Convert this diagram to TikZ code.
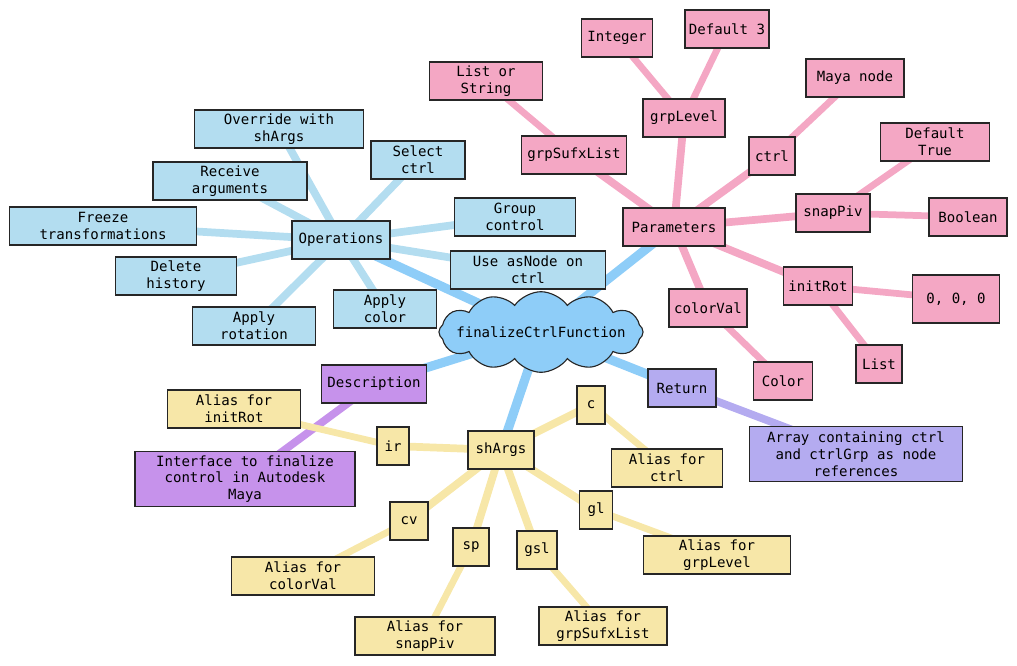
\documentclass[tikz,border=0pt]{standalone}
\usepackage{fontspec}
\setmonofont{DejaVu Sans Mono}
\usetikzlibrary{shapes.symbols, backgrounds}

\definecolor{rootblue}{HTML}{8ECDF8}
\definecolor{opblue}{HTML}{B3DDF0}
\definecolor{parampink}{HTML}{F4A7C4}
\definecolor{descviolet}{HTML}{C692EB}
\definecolor{retlav}{HTML}{B4ABF0}
\definecolor{aliasyellow}{HTML}{F7E7A8}

\begin{document}
\begin{tikzpicture}[
    x=0.025cm, y=-0.025cm,
    font=\ttfamily\fontsize{10}{12}\selectfont,
    box/.style={draw=black!85, line width=0.8pt, rectangle, align=center,
        minimum height=0.95cm, inner xsep=2pt, inner ysep=1pt},
    root node/.style={cloud, cloud puffs=12, cloud puff arc=110, aspect=3.7,
        inner xsep=-9pt, inner ysep=-1.5pt,
        draw=black!85, line width=0.8pt, fill=rootblue},
    op node/.style={box, fill=opblue},
    param node/.style={box, fill=parampink},
    desc node/.style={box, fill=descviolet},
    ret node/.style={box, fill=retlav},
    alias node/.style={box, fill=aliasyellow},
    root link/.style={rootblue, line width=6.5pt},
    op link/.style={opblue, line width=5.5pt},
    param link/.style={parampink, line width=5.5pt},
    param leaf/.style={parampink, line width=4.8pt},
    desc link/.style={descviolet, line width=5.5pt},
    ret link/.style={retlav, line width=5.5pt},
    alias link/.style={aliasyellow, line width=5.5pt},
    alias leaf/.style={aliasyellow, line width=4.8pt}
]

\useasboundingbox (0,0) rectangle (1017,665);

% Central cloud
\node[root node] (root) at (541,332) {finalizeCtrlFunction};

% Operations branch
\node[op node, minimum width=2.45cm]  (ops)  at (341,240) {Operations};
\node[op node, minimum width=4.225cm] (ops1) at (279,129) {Override with\\shArgs};
\node[op node, minimum width=2.35cm]  (ops2) at (418,160) {Select\\ctrl};
\node[op node, minimum width=3.85cm]  (ops3) at (230,181) {Receive\\arguments};
\node[op node, minimum width=4.675cm] (ops4) at (103,226) {Freeze\\transformations};
\node[op node, minimum width=3.025cm] (ops5) at (176,276) {Delete\\history};
\node[op node, minimum width=3.075cm] (ops6) at (254,326) {Apply\\rotation};
\node[op node, minimum width=2.575cm] (ops7) at (385,309) {Apply\\color};
\node[op node, minimum width=3.025cm] (ops8) at (515,217) {Group\\control};
\node[op node, minimum width=3.875cm] (ops9) at (528,270) {Use asNode on\\ctrl};

% Parameters branch
\node[param node, minimum width=2.55cm]  (par)   at (674,227) {Parameters};
\node[param node, minimum width=2.625cm] (par1)  at (574,155) {grpSufxList};
\node[param node, minimum width=2.825cm] (par1a) at (486,81)  {List or\\String};
\node[param node, minimum width=2.05cm]  (par2)  at (684,118) {grpLevel};
\node[param node, minimum width=1.775cm] (par2a) at (617,38)  {Integer};
\node[param node, minimum width=2.1cm]   (par2b) at (727,29)  {Default 3};
\node[param node, minimum width=1.15cm]  (par3)  at (772,156) {ctrl};
\node[param node, minimum width=2.45cm]  (par3a) at (855,78)  {Maya node};
\node[param node, minimum width=1.85cm]  (par4)  at (833,213) {snapPiv};
\node[param node, minimum width=2.725cm] (par4a) at (935,142) {Default\\True};
\node[param node, minimum width=1.95cm]  (par4b) at (968,217) {Boolean};
\node[param node, minimum width=1.725cm] (par5)  at (818,286) {initRot};
\node[param node, minimum width=2.175cm, minimum height=1.2cm] (par5a) at (956,299) {0, 0, 0};
\node[param node, minimum width=1.15cm]  (par5b) at (879,364) {List};
\node[param node, minimum width=1.95cm]  (par6)  at (708,308) {colorVal};
\node[param node, minimum width=1.475cm] (par6a) at (783,381) {Color};

% Description and Return
\node[desc node, minimum width=2.625cm] (desc)  at (374,384) {Description};
\node[desc node, minimum width=5.5cm, minimum height=1.375cm] (desc1) at (245,479)
    {Interface to finalize\\control in Autodesk\\Maya};
\node[ret node, minimum width=1.7cm] (ret)  at (682,388) {Return};
\node[ret node, minimum width=5.325cm, minimum height=1.375cm] (ret1) at (856,454)
    {Array containing ctrl\\and ctrlGrp as node\\references};

% shArgs branch
\node[alias node, minimum width=1.65cm]  (sh)   at (501,450) {shArgs};
\node[alias node, minimum width=0.8cm]   (sh1)  at (393,446) {ir};
\node[alias node, minimum width=3.325cm] (sh1a) at (234,409) {Alias for\\initRot};
\node[alias node, minimum width=0.7cm]   (sh2)  at (591,405) {c};
\node[alias node, minimum width=2.775cm] (sh2a) at (667,468) {Alias for\\ctrl};
\node[alias node, minimum width=0.825cm] (sh3)  at (596,510) {gl};
\node[alias node, minimum width=3.675cm] (sh3a) at (717,555) {Alias for\\grpLevel};
\node[alias node, minimum width=0.95cm]  (sh4)  at (409,521) {cv};
\node[alias node, minimum width=3.575cm] (sh4a) at (303,576) {Alias for\\colorVal};
\node[alias node, minimum width=0.9cm]   (sh5)  at (471,547) {sp};
\node[alias node, minimum width=3.5cm]   (sh5a) at (425,636) {Alias for\\snapPiv};
\node[alias node, minimum width=1.0cm]   (sh6)  at (537,550) {gsl};
\node[alias node, minimum width=3.2cm]   (sh6a) at (603,626) {Alias for\\grpSufxList};

% Links, all behind the boxes
\begin{scope}[on background layer]
    % From the cloud
    \draw[root link] (root.center) -- (ops.center);
    \draw[root link] (root.center) -- (par.center);
    \draw[root link] (root.center) -- (desc.center);
    \draw[root link] (root.center) -- (sh.center);
    \draw[root link] (root.center) -- (ret.center);

    % Operations
    \draw[op link] (ops.center) -- (ops1.center);
    \draw[op link] (ops.center) -- (ops2.center);
    \draw[op link] (ops.center) -- (ops3.center);
    \draw[op link] (ops.center) -- (ops4.center);
    \draw[op link] (ops.center) -- (ops5.center);
    \draw[op link] (ops.center) -- (ops6.center);
    \draw[op link] (ops.center) -- (ops7.center);
    \draw[op link] (ops.center) -- (ops8.center);
    \draw[op link] (ops.center) -- (ops9.center);

    % Parameters
    \draw[param link] (par.center) -- (par1.center);
    \draw[param link] (par.center) -- (par2.center);
    \draw[param link] (par.center) -- (par3.center);
    \draw[param link] (par.center) -- (par4.center);
    \draw[param link] (par.center) -- (par5.center);
    \draw[param link] (par.center) -- (par6.center);
    \draw[param leaf] (par1.center) -- (par1a.center);
    \draw[param leaf] (par2.center) -- (par2a.center);
    \draw[param leaf] (par2.center) -- (par2b.center);
    \draw[param leaf] (par3.center) -- (par3a.center);
    \draw[param leaf] (par4.center) -- (par4a.center);
    \draw[param leaf] (par4.center) -- (par4b.center);
    \draw[param leaf] (par5.center) -- (par5a.center);
    \draw[param leaf] (par5.center) -- (par5b.center);
    \draw[param leaf] (par6.center) -- (par6a.center);

    % Description and Return
    \draw[desc link] (desc.center) -- (desc1.center);
    \draw[ret link] (ret.center) -- (ret1.center);

    % shArgs
    \draw[alias link] (sh.center) -- (sh1.center);
    \draw[alias link] (sh.center) -- (sh2.center);
    \draw[alias link] (sh.center) -- (sh3.center);
    \draw[alias link] (sh.center) -- (sh4.center);
    \draw[alias link] (sh.center) -- (sh5.center);
    \draw[alias link] (sh.center) -- (sh6.center);
    \draw[alias leaf] (sh1.center) -- (sh1a.center);
    \draw[alias leaf] (sh2.center) -- (sh2a.center);
    \draw[alias leaf] (sh3.center) -- (sh3a.center);
    \draw[alias leaf] (sh4.center) -- (sh4a.center);
    \draw[alias leaf] (sh5.center) -- (sh5a.center);
    \draw[alias leaf] (sh6.center) -- (sh6a.center);
\end{scope}

\end{tikzpicture}
\end{document}
